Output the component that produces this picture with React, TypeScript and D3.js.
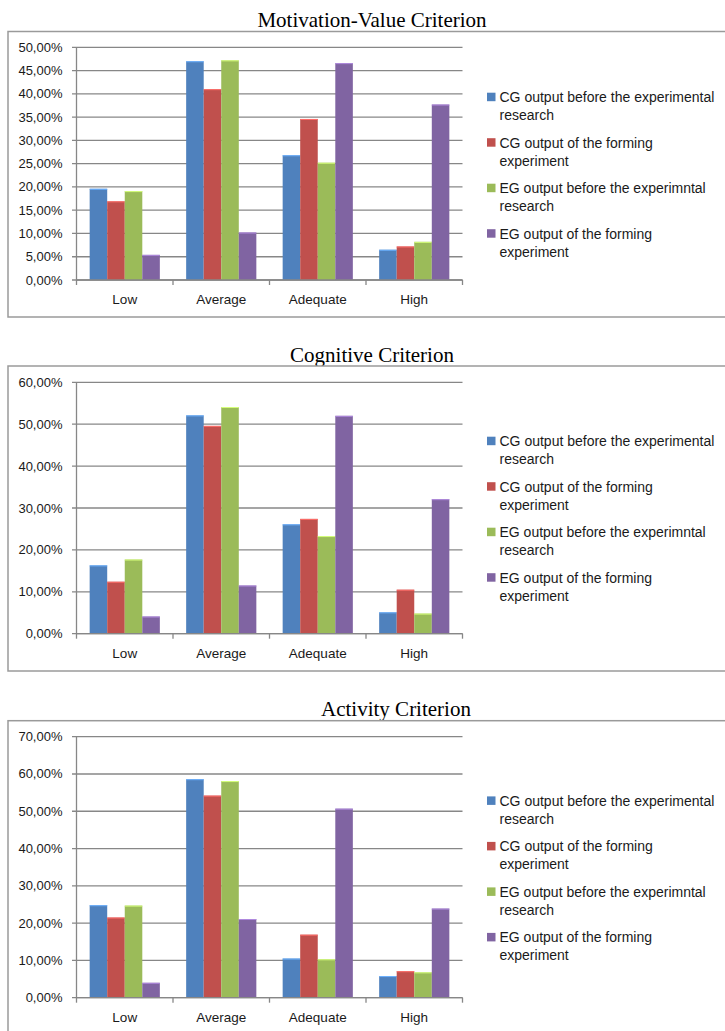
import * as d3 from "d3"

const categories = ["Low", "Average", "Adequate", "High"]
const seriesNames = [
  ["CG output before the experimental", "research"],
  ["CG output of the forming", "experiment"],
  ["EG output before the experimntal", "research"],
  ["EG output of the forming", "experiment"],
]
const colors = ["#4F81BD", "#C0504D", "#9BBB59", "#8064A2"]

// Motivation-Value Criterion, %
const mvCgBefore = [19.6, 47.0, 26.8, 6.5]
const mvCgAfter = [16.9, 41.0, 34.6, 7.2]
const mvEgBefore = [19.1, 47.2, 25.2, 8.2]
const mvEgAfter = [5.4, 10.2, 46.6, 37.7]

// Cognitive Criterion, %
const cogCgBefore = [16.3, 52.1, 26.1, 5.1]
const cogCgAfter = [12.4, 49.6, 27.4, 10.5]
const cogEgBefore = [17.7, 54.1, 23.3, 4.8]
const cogEgAfter = [4.1, 11.5, 52.0, 32.1]

// Activity Criterion, %
const actCgBefore = [24.8, 58.6, 10.5, 5.8]
const actCgAfter = [21.5, 54.2, 16.9, 7.1]
const actEgBefore = [24.7, 58.1, 10.3, 6.8]
const actEgAfter = [4.0, 21.1, 50.7, 23.9]

const mvTicks = [0, 5, 10, 15, 20, 25, 30, 35, 40, 45, 50]
const cogTicks = [0, 10, 20, 30, 40, 50, 60]
const actTicks = [0, 10, 20, 30, 40, 50, 60, 70]

const charts = [
  {
    title: "Motivation-Value Criterion",
    titleX: 372, titleY: 20,
    frameTop: 31.5, frameBottom: 317,
    plotTop: 47.3, plotBottom: 280,
    ticks: mvTicks,
    legendTop: 97,
    series: [mvCgBefore, mvCgAfter, mvEgBefore, mvEgAfter],
  },
  {
    title: "Cognitive Criterion",
    titleX: 372, titleY: 355,
    frameTop: 366, frameBottom: 671,
    plotTop: 382.3, plotBottom: 633.7,
    ticks: cogTicks,
    legendTop: 441,
    series: [cogCgBefore, cogCgAfter, cogEgBefore, cogEgAfter],
  },
  {
    title: "Activity Criterion",
    titleX: 396, titleY: 709,
    frameTop: 720.7, frameBottom: 1045,
    plotTop: 736.7, plotBottom: 997.7,
    ticks: actTicks,
    legendTop: 800.7,
    series: [actCgBefore, actCgAfter, actEgBefore, actEgAfter],
  },
]

const fmt = (v: number) => v.toFixed(2).replace(".", ",") + "%"
const sans = "'Liberation Sans', Arial, sans-serif"

function Chart({ cfg }: { cfg: (typeof charts)[number] }) {
  const x0 = 76.5
  const x1 = 462.5
  const xScale = d3.scaleBand<string>().domain(categories).range([x0, x1]).paddingInner(0).paddingOuter(0)
  const bw = xScale.bandwidth()
  const gap = 1.5
  const barW = bw / (4 + gap)
  const yMax = cfg.ticks[cfg.ticks.length - 1]
  const yScale = d3.scaleLinear().domain([0, yMax]).range([cfg.plotBottom, cfg.plotTop])

  return (
    <g>
      <text x={cfg.titleX} y={cfg.titleY} textAnchor="middle" dominantBaseline="central"
        fontFamily="'Liberation Serif', 'Times New Roman', serif" fontSize={21} fill="#000">
        {cfg.title}
      </text>
      <rect x={8} y={cfg.frameTop} width={730} height={cfg.frameBottom - cfg.frameTop}
        fill="#fff" stroke="#9a9a9a" strokeWidth={1.5} />
      {/* grid + y labels */}
      {cfg.ticks.map((t) => (
        <g key={t}>
          <line x1={x0 - 4.5} x2={x1} y1={yScale(t)} y2={yScale(t)} stroke="#878787" strokeWidth={1.3} />
          <text x={62.5} y={yScale(t)} textAnchor="end" dominantBaseline="central"
            fontFamily={sans} fontSize={13} fill="#1a1a1a">
            {fmt(t)}
          </text>
        </g>
      ))}
      {/* bars */}
      {cfg.series.map((vals, si) =>
        vals.map((v, ci) => {
          const bx = (xScale(categories[ci]) as number) + (bw - barW * 4) / 2 + si * barW
          const top = yScale(v)
          return (
            <g key={`${si}-${ci}`}>
              <rect x={bx} y={top} width={barW} height={cfg.plotBottom - top} fill={colors[si]} />
              <line x1={bx} x2={bx + barW} y1={top + 0.5} y2={top + 0.5}
                stroke={d3.color(colors[si])!.brighter(0.9).toString()} strokeWidth={1} />
            </g>
          )
        })
      )}
      {/* axes */}
      <line x1={x0} x2={x0} y1={cfg.plotTop} y2={cfg.plotBottom} stroke="#878787" strokeWidth={1.3} />
      <line x1={x0} x2={x1} y1={cfg.plotBottom} y2={cfg.plotBottom} stroke="#878787" strokeWidth={1.3} />
      {[...categories.map((c) => xScale(c) as number), x1].map((bx, i) => (
        <line key={i} x1={bx} x2={bx} y1={cfg.plotBottom} y2={cfg.plotBottom + 5} stroke="#878787" strokeWidth={1.3} />
      ))}
      {categories.map((c) => (
        <text key={c} x={(xScale(c) as number) + bw / 2} y={cfg.plotBottom + 19.5}
          textAnchor="middle" dominantBaseline="central" fontFamily={sans} fontSize={13.5} fill="#1a1a1a">
          {c}
        </text>
      ))}
      {/* legend */}
      {seriesNames.map((lines, i) => {
        const ly = cfg.legendTop + i * 45.5
        return (
          <g key={i}>
            <rect x={487} y={ly - 4.3} width={8.5} height={8.5} fill={colors[i]} />
            {lines.map((ln, li) => (
              <text key={li} x={499.5} y={ly + li * 18} dominantBaseline="central"
                fontFamily={sans} fontSize={14} fill="#1a1a1a">
                {ln}
              </text>
            ))}
          </g>
        )
      })}
    </g>
  )
}

export default function App() {
  return (
    <svg width={725} height={1031} style={{ position: "absolute", left: 0, top: 0, background: "#fff" }}>
      {charts.map((c) => (
        <Chart key={c.title} cfg={c} />
      ))}
    </svg>
  )
}
